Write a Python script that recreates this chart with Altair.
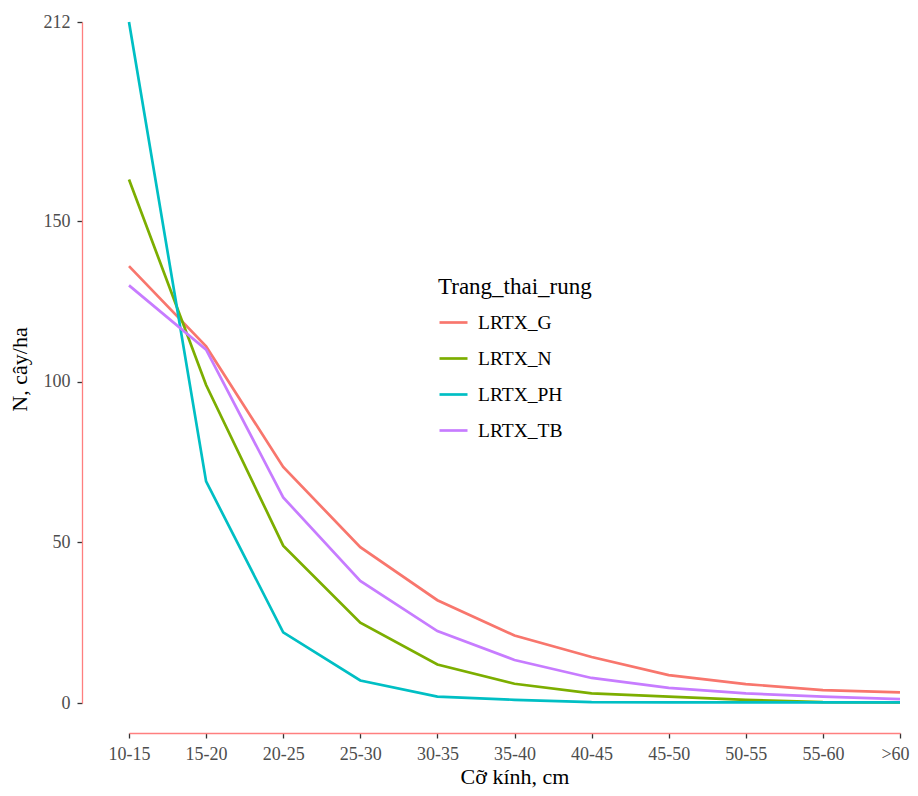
import altair as alt
import pandas as pd

classes = ["10-15", "15-20", "20-25", "25-30", "30-35", "35-40", "40-45", "45-50", "50-55", "55-60", ">60"]
series_names = ["LRTX_G", "LRTX_N", "LRTX_PH", "LRTX_TB"]
lrtx_g = [136, 111, 73.5, 48.5, 32, 21, 14.3, 8.7, 5.9, 4.0, 3.3]
lrtx_n = [163, 99, 49, 25, 12, 6, 3, 2, 1, 0.3, 0.2]
lrtx_ph = [212, 69, 22, 7, 2, 1, 0.3, 0.2, 0.2, 0.2, 0.2]
lrtx_tb = [130, 110, 64, 38, 22.4, 13.4, 7.8, 4.7, 3, 2, 1.2]
colors = ["#F8766D", "#7CAE00", "#00BFC4", "#C77CFF"]

rows = []
for name, vals in zip(series_names, [lrtx_g, lrtx_n, lrtx_ph, lrtx_tb]):
    for c, v in zip(classes, vals):
        rows.append({"class": c, "N": v, "Trang_thai_rung": name})
df = pd.DataFrame(rows)

FONT = "Liberation Serif"
AXIS_RED = "#ff7f7f"

chart = alt.Chart(df).mark_line(strokeWidth=2.7).encode(
    x=alt.X("class:O", sort=classes,
            scale=alt.Scale(type="point", padding=0),
            axis=alt.Axis(title="Cỡ kính, cm", labelAngle=0, offset=30,
                          domainColor=AXIS_RED, domainWidth=1.3,
                          tickColor="#333333", tickSize=5, tickWidth=1.3,
                          labelColor="#4d4d4d", labelFontSize=18, labelFont=FONT,
                          labelPadding=7,
                          labelOffset=alt.ExprRef("datum.label === '>60' ? -5 : 0"),
                          titleFont=FONT, titleFontSize=22, titleFontWeight="normal",
                          titleColor="black", titleY=50,
                          titleBaseline="alphabetic")),
    y=alt.Y("N:Q", scale=alt.Scale(domain=[0, 212], nice=False, zero=False),
            axis=alt.Axis(title="N, cây/ha", values=[0, 50, 100, 150, 212], offset=47,
                          grid=False, domainColor=AXIS_RED, domainWidth=1.3,
                          tickColor="#333333", tickSize=5, tickWidth=1.3,
                          labelColor="#4d4d4d", labelFontSize=18, labelFont=FONT,
                          labelPadding=7,
                          titleFont=FONT, titleFontSize=22, titleFontWeight="normal",
                          titleColor="black", titleX=-56, titleY=347,
                          titleBaseline="alphabetic")),
    color=alt.Color("Trang_thai_rung:N", sort=series_names,
                    scale=alt.Scale(domain=series_names, range=colors),
                    legend=alt.Legend(title="Trang_thai_rung", orient="none",
                                      legendX=309, legendY=254,
                                      symbolType="stroke", symbolSize=784,
                                      symbolStrokeWidth=2.7, rowPadding=11,
                                      titleFont=FONT, titleFontSize=23,
                                      titleFontWeight="normal", titleColor="black",
                                      titlePadding=8,
                                      labelFont=FONT, labelFontSize=19.5,
                                      labelColor="black", labelOffset=9,
                                      padding=0)),
    order=alt.Order("Trang_thai_rung:N"),
).properties(
    width=771, height=681,
    background="white",
    autosize=alt.AutoSizeParams(type="none"),
    padding={"left": 121, "top": 14, "right": 10, "bottom": 85},
).configure_view(strokeWidth=0)

chart.save("out.html", embed_options={"renderer": "svg", "actions": False})
